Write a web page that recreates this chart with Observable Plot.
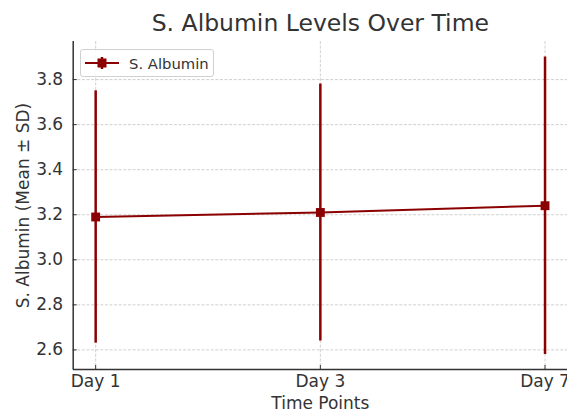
<!DOCTYPE html>
<html>
<head>
<meta charset="utf-8">
<script src="https://cdn.jsdelivr.net/npm/d3@7"></script>
<script src="https://cdn.jsdelivr.net/npm/@observablehq/plot@0.6"></script>
<style>
  body { margin: 0; background: white; }
  #wrap { position: relative; width: 567px; height: 413px; overflow: hidden; font-family: "DejaVu Sans", sans-serif; }
  #legend { position: absolute; left: 80px; top: 49px; width: 132px; height: 26px; border: 1px solid #d0d0d0; border-radius: 3px; background: rgba(255,255,255,0.85); display: flex; align-items: center; }
  #legend svg { margin-left: 3px; }
  #legend span { margin-left: 9px; font-size: 14.8px; color: #333; }
</style>
</head>
<body>
<div id="wrap"></div>
<script>
const days = ["Day 1", "Day 3", "Day 7"];
const means = [3.19, 3.21, 3.24];
const sds = [0.56, 0.57, 0.66];
const yTicks = [2.6, 2.8, 3.0, 3.2, 3.4, 3.6, 3.8];
const seriesName = "S. Albumin";
const title = "S. Albumin Levels Over Time";
const xLabel = "Time Points";
const yLabel = "S. Albumin (Mean ± SD)";

const color = "#8B0000";
const xDomain = [-0.1, 2.1];
const yDomain = [2.513, 3.969];
const data = days.map((d, i) => ({i, day: d, mean: means[i], sd: sds[i]}));
const gridStyle = {stroke: "#b0b0b0", strokeOpacity: 0.75, strokeWidth: 0.8, strokeDasharray: "3,1.6"};
const fs = 17;

const chart = Plot.plot({
  width: 567,
  height: 413,
  marginTop: 41,
  marginBottom: 44,
  marginLeft: 72.7,
  marginRight: 0,
  x: {type: "linear", domain: xDomain},
  y: {domain: yDomain},
  style: {fontFamily: "'DejaVu Sans', sans-serif", fontSize: fs + "px", color: "#333", background: "white", overflow: "visible"},
  marks: [
    Plot.gridY(yTicks, gridStyle),
    Plot.gridX(days.map((d, i) => i), gridStyle),
    Plot.ruleX(data, {x: "i", y1: d => d.mean - d.sd, y2: d => d.mean + d.sd, stroke: color, strokeWidth: 2.5}),
    Plot.line(data, {x: "i", y: "mean", stroke: color, strokeWidth: 2}),
    Plot.dot(data, {x: "i", y: "mean", symbol: "square", r: 5, fill: color, stroke: "none"}),
    Plot.ruleY([yDomain[0]], {stroke: "#333", strokeWidth: 1.5}),
    Plot.ruleX([xDomain[0]], {stroke: "#333", strokeWidth: 1.5}),
    Plot.axisY(yTicks, {tickSize: -4, tickPadding: 14, tickFormat: d => d.toFixed(1), label: null, stroke: "#333", fontSize: fs}),
    Plot.axisX(days.map((d, i) => i), {tickSize: -4, tickPadding: 9, tickFormat: i => days[i], label: null, stroke: "#333", fontSize: fs}),
    Plot.text([title], {frameAnchor: "top", dy: -18, lineAnchor: "middle", fontSize: 23.5, fill: "#333"}),
    Plot.text([xLabel], {frameAnchor: "bottom", dy: 34, lineAnchor: "middle", fontSize: fs, fill: "#333"}),
    Plot.text([yLabel], {frameAnchor: "left", dx: -50, rotate: -90, textAnchor: "middle", lineAnchor: "middle", fontSize: fs, fill: "#333"})
  ]
});
const wrap = document.getElementById("wrap");
wrap.appendChild(chart);

const legend = document.createElement("div");
legend.id = "legend";
legend.innerHTML = `<svg width="36" height="16" viewBox="0 0 36 16">
  <line x1="1" y1="8" x2="35" y2="8" stroke="${color}" stroke-width="2"/>
  <line x1="18" y1="2" x2="18" y2="14" stroke="${color}" stroke-width="2.5"/>
  <rect x="13.5" y="3.5" width="9" height="9" fill="${color}"/>
</svg><span>${seriesName}</span>`;
wrap.appendChild(legend);
</script>
</body>
</html>
